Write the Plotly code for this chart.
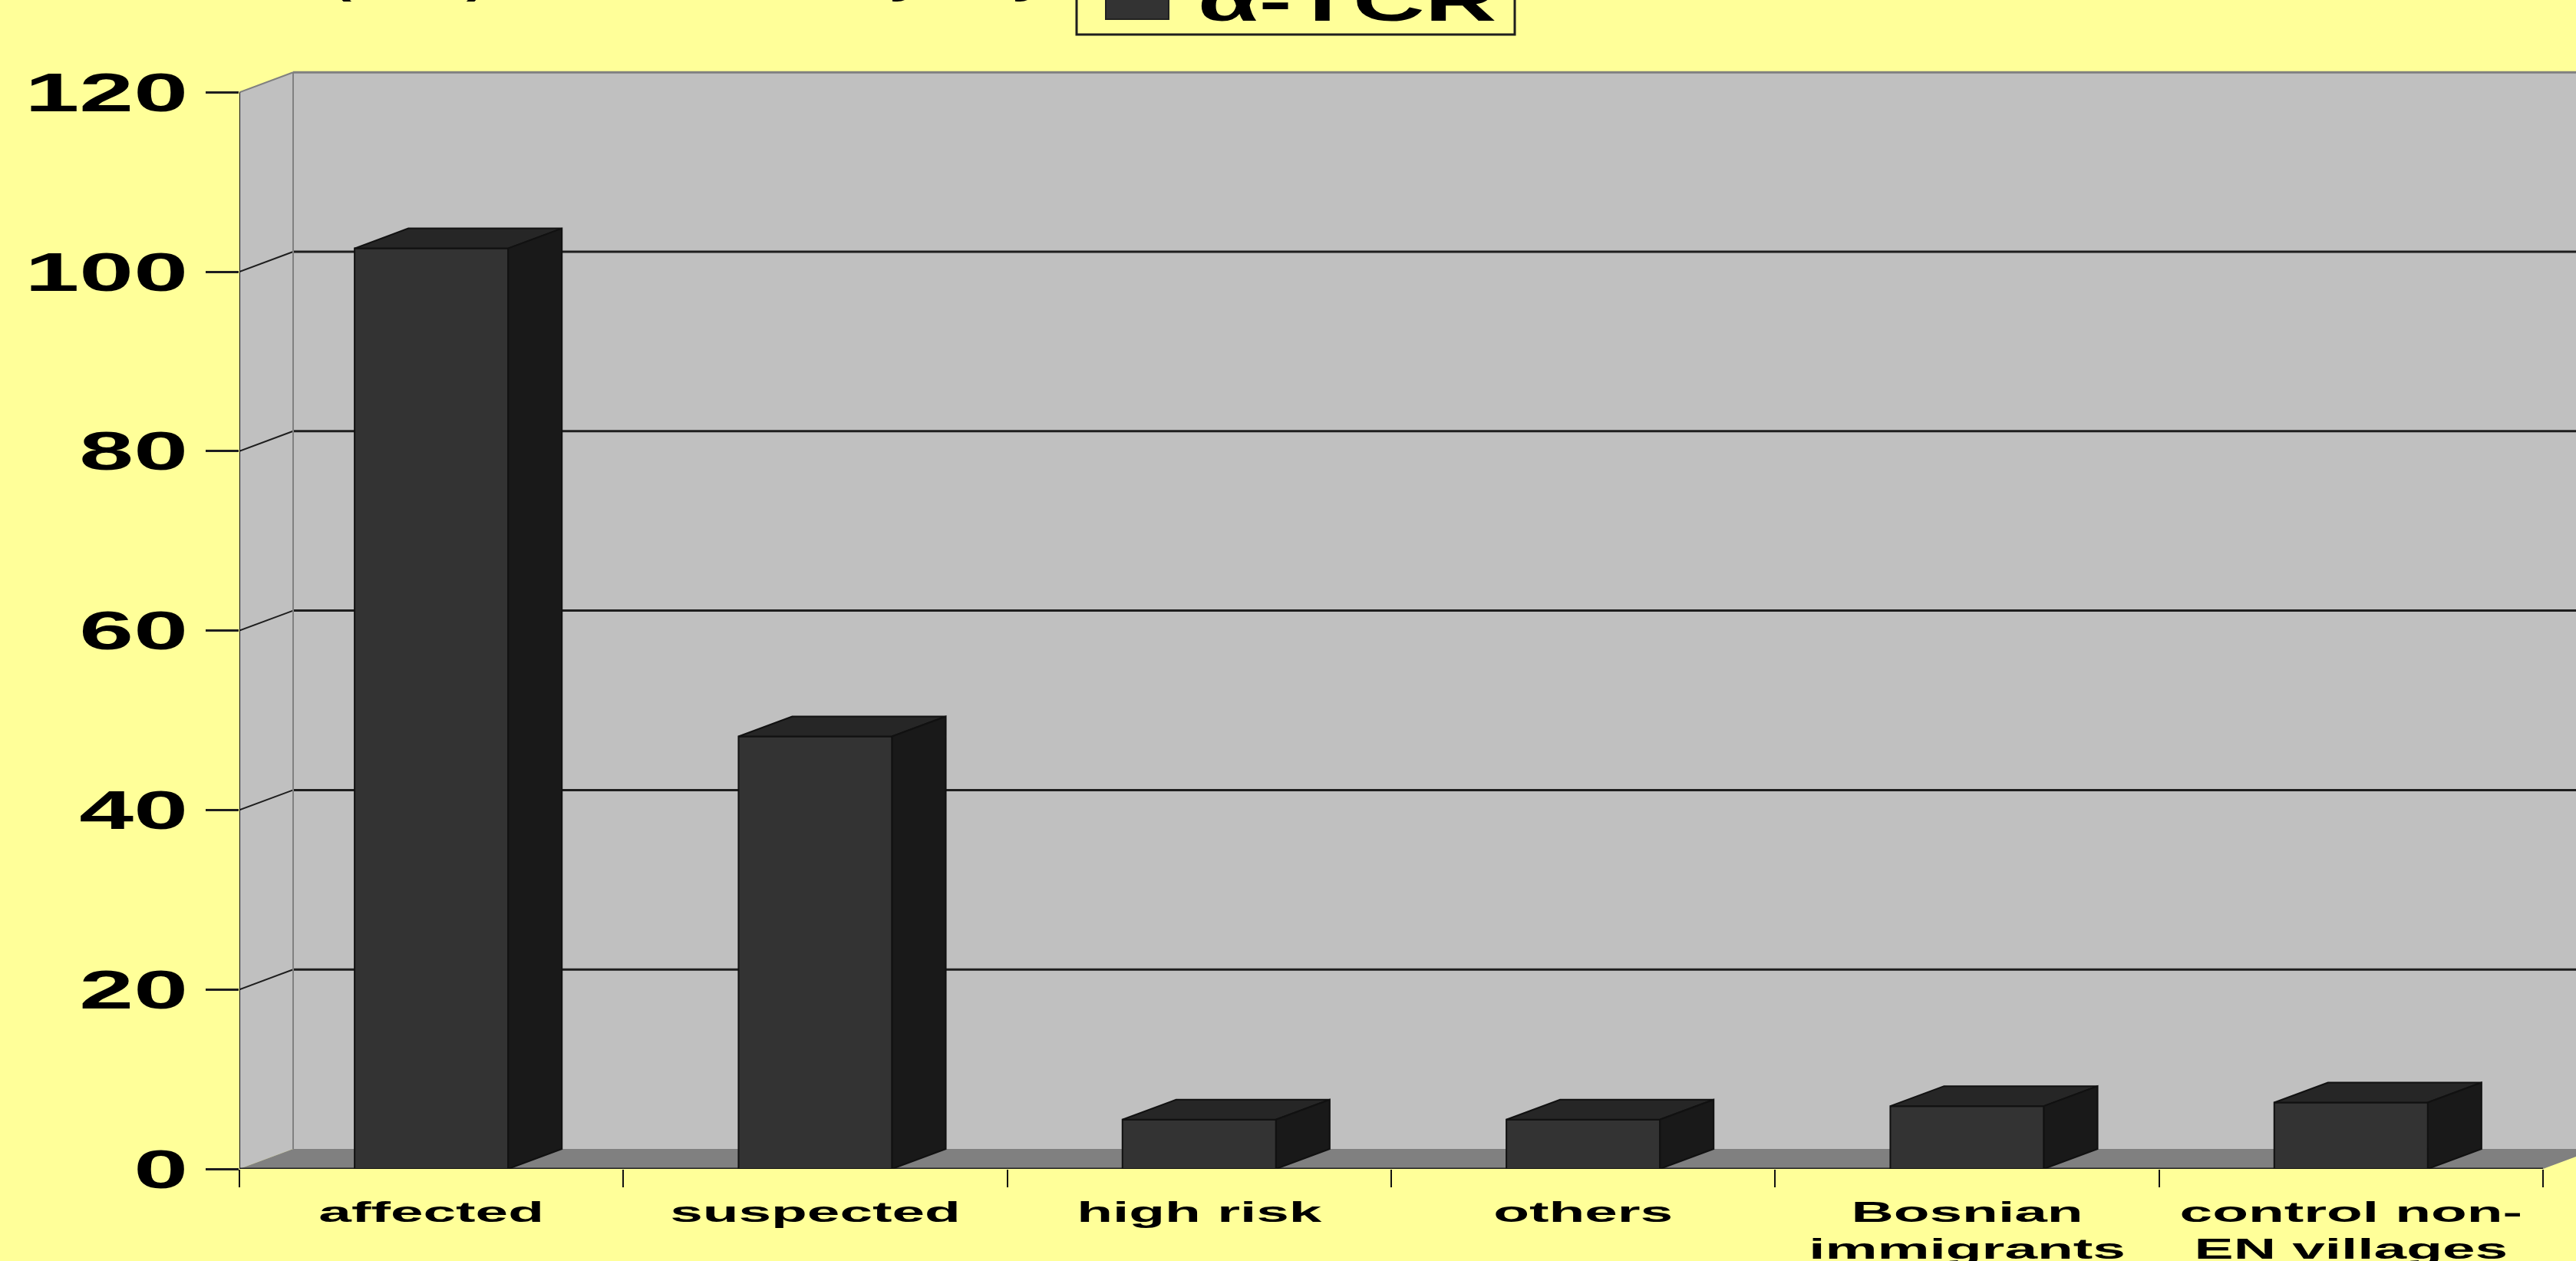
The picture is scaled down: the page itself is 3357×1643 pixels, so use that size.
import plotly.graph_objects as go

# --- data -------------------------------------------------------------
categories = ["affected", "suspected", "high risk", "others",
              "Bosnian<br>immigrants", "control non-<br>EN villages"]
tcr_values = [102.6, 48.2, 5.5, 5.5, 7.0, 7.4]
series_name = "α-TCR"
y_ticks = [0, 20, 40, 60, 80, 100, 120]

# --- page geometry (pixels) -------------------------------------------
W, H = 3357, 1643
PLOT_LEFT, BASELINE = 312, 1523
CAT_PX = 500.33            # width of one category
UNIT_PX = 11.69            # height of one y unit
DEPTH_X = 70 / CAT_PX      # oblique depth of the box, in axis units
DEPTH_Y = 26 / UNIT_PX
BAR_WIDTH = 0.4

BG = "#FFFF99"
WALL = "#C0C0C0"
FLOOR = "#808080"
FRONT = "#333333"
SIDE = "#191919"
TOP = "#262626"
EDGE = "#111111"

x0, x1 = -0.5, len(categories) - 0.5
x_max = x0 + (W - PLOT_LEFT) / CAT_PX
y_max = max(y_ticks) + DEPTH_Y + 0.2


def polygon(points, fill, line=None, width=0, layer="below"):
    path = "M" + " L".join(f"{x},{y}" for x, y in points) + " Z"
    return dict(type="path", path=path, xref="x", yref="y", fillcolor=fill,
                layer=layer, line=dict(color=line or fill, width=width))


def segment(xa, ya, xb, yb, color, width):
    return dict(type="line", x0=xa, y0=ya, x1=xb, y1=yb, xref="x", yref="y",
                layer="below", line=dict(color=color, width=width))


def paper_rect(left, top, right, bottom, **kw):
    return dict(type="rect", xref="paper", yref="paper",
                x0=left / W, x1=right / W, y0=1 - bottom / H, y1=1 - top / H, **kw)


top_val = max(y_ticks)
shapes = [
    # back wall, side wall and floor of the box
    polygon([(x0 + DEPTH_X, DEPTH_Y), (x1 + DEPTH_X, DEPTH_Y),
             (x1 + DEPTH_X, top_val + DEPTH_Y), (x0 + DEPTH_X, top_val + DEPTH_Y)], WALL),
    polygon([(x0, 0), (x0 + DEPTH_X, DEPTH_Y),
             (x0 + DEPTH_X, top_val + DEPTH_Y), (x0, top_val)], WALL),
    polygon([(x0, 0), (x1, 0), (x1 + DEPTH_X, DEPTH_Y), (x0 + DEPTH_X, DEPTH_Y)], FLOOR),
]

# gridlines wrap from the side wall onto the back wall
for v in y_ticks[1:]:
    color = FLOOR if v == top_val else "#1E1E1E"
    shapes.append(segment(x0, v, x0 + DEPTH_X, v + DEPTH_Y, color, 2))
    shapes.append(segment(x0 + DEPTH_X, v + DEPTH_Y, x1 + DEPTH_X, v + DEPTH_Y, color, 3))

shapes += [
    segment(x0 + DEPTH_X, DEPTH_Y, x0 + DEPTH_X, top_val + DEPTH_Y, FLOOR, 2),
    segment(x0, 0, x0, top_val, "#111111", 2),
    segment(x0, 0, x1, 0, "#1E1E1E", 3),
    # legend box and swatch, running off the top of the page
    paper_rect(1403, -10, 1974, 45, fillcolor=BG, line=dict(color="#1E1E1E", width=3)),
    paper_rect(1441, -10, 1523, 25, fillcolor=FRONT, line=dict(color="#222222", width=2)),
]

fig = go.Figure()

# front faces
fig.add_trace(go.Bar(
    x=list(range(len(categories))), y=tcr_values, width=BAR_WIDTH, name=series_name,
    marker=dict(color=FRONT, line=dict(color=EDGE, width=2)), showlegend=False,
))

# oblique top and side faces of every bar
for i, v in enumerate(tcr_values):
    xl, xr = i - BAR_WIDTH / 2, i + BAR_WIDTH / 2
    fig.add_trace(go.Scatter(
        x=[xl, xl + DEPTH_X, xr + DEPTH_X, xr, xl],
        y=[v, v + DEPTH_Y, v + DEPTH_Y, v, v],
        mode="lines", fill="toself", fillcolor=TOP,
        line=dict(color=EDGE, width=2), showlegend=False, hoverinfo="skip",
    ))
    fig.add_trace(go.Scatter(
        x=[xr, xr + DEPTH_X, xr + DEPTH_X, xr, xr],
        y=[v, v + DEPTH_Y, DEPTH_Y, 0, v],
        mode="lines", fill="toself", fillcolor=SIDE,
        line=dict(color=EDGE, width=2), showlegend=False, hoverinfo="skip",
    ))

# bottoms of the heading glyphs that reach into the page
heading_bits = [("(", 445), (")", 620), ("y", 1180), ("y", 1340)]
annotations = [
    dict(text=t, x=px / W, y=1 - 4 / H, xref="paper", yref="paper", xanchor="center",
         yanchor="bottom", showarrow=False, font=dict(family="Liberation Sans", size=44,
                                                     color="black", weight="bold"))
    for t, px in heading_bits
]
annotations.append(dict(
    text=series_name, x=1755 / W, y=1 - 45 / H, xref="paper", yref="paper",
    xanchor="center", yanchor="bottom", showarrow=False,
    font=dict(family="Liberation Sans", size=75, color="black", weight="bold"),
))

fig.update_layout(
    width=W, height=H, margin=dict(l=0, r=0, t=0, b=0, pad=0),
    paper_bgcolor=BG, plot_bgcolor="rgba(0,0,0,0)",
    shapes=shapes, annotations=annotations, showlegend=False,
    xaxis=dict(
        domain=[PLOT_LEFT / W, 1], range=[x0, x_max], automargin=False,
        tickmode="array", tickvals=list(range(len(categories))), ticktext=categories,
        ticks="", showgrid=False, zeroline=False, showline=False,
        tickangle=0, ticklabelstandoff=31,
        tickfont=dict(family="Liberation Sans", size=37, color="black", weight="bold"),
        minor=dict(tickmode="array",
                   tickvals=[x0 + i for i in range(len(categories) + 1)],
                   ticks="outside", ticklen=23, tickwidth=2, tickcolor="#111111",
                   showgrid=False),
    ),
    yaxis=dict(
        domain=[(H - BASELINE) / H, (H - BASELINE + y_max * UNIT_PX) / H],
        range=[0, y_max], automargin=False,
        tickmode="array", tickvals=y_ticks, ticktext=[str(v) for v in y_ticks],
        ticks="outside", ticklen=43, tickwidth=3, tickcolor="#1E1E1E",
        showgrid=False, zeroline=False, showline=False, ticklabelstandoff=9,
        tickfont=dict(family="Liberation Sans", size=70, color="black", weight="bold"),
    ),
)

# the labels are set in a horizontally widened face
widen = """
function widen(nodes, s) {
  nodes.forEach(function (t) {
    var old = t.getAttribute('transform') || '';
    var m = old.match(/translate\\(\\s*(-?[\\d.]+)/);
    var x = (parseFloat(t.getAttribute('x')) || 0) + (m ? parseFloat(m[1]) : 0);
    t.setAttribute('transform',
      'translate(' + x + ',0) scale(' + s + ',1) translate(' + (-x) + ',0) ' + old);
  });
}
var root = document.querySelector('.js-plotly-plot');
widen(root.querySelectorAll('.xtick text'), 2.07);
widen(root.querySelectorAll('.ytick text'), 1.82);
widen(root.querySelectorAll('.annotation-text'), 1.73);
"""
fig.write_html("out.html", post_script=widen)
